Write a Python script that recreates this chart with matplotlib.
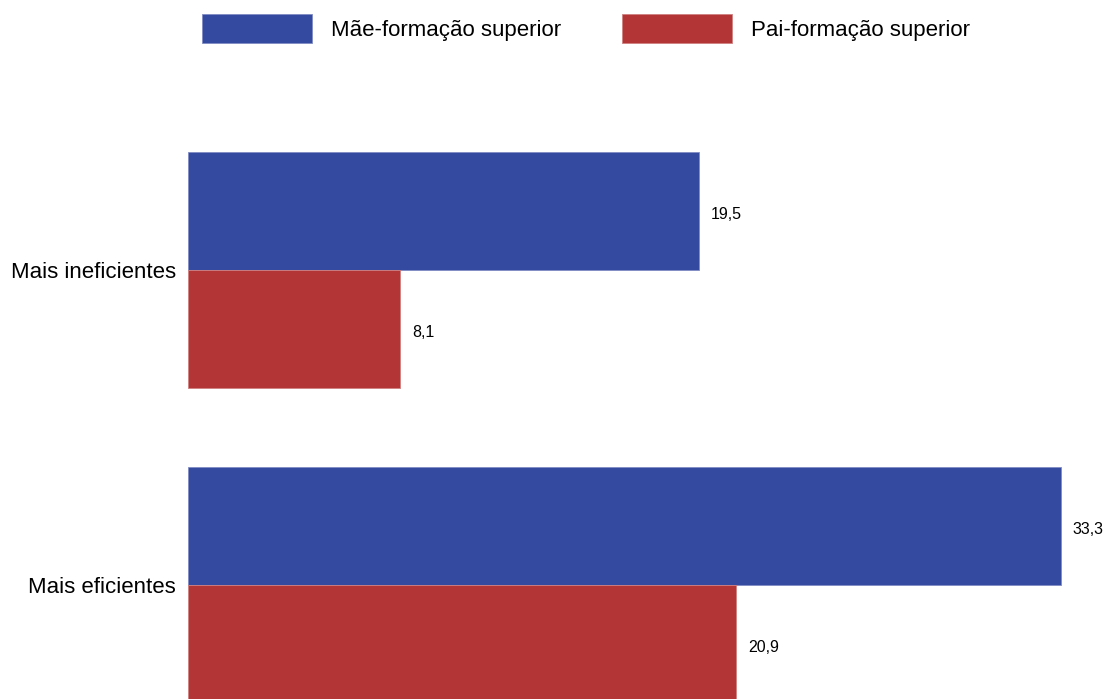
import matplotlib
matplotlib.use("Agg")
import matplotlib.pyplot as plt
import numpy as np

categories = ["Mais eficientes", "Mais ineficientes"]
series_names = ["Mãe-formação superior", "Pai-formação superior"]
mae = [33.3, 19.5]
pai = [20.9, 8.1]
value_labels_mae = ["33,3", "19,5"]
value_labels_pai = ["20,9", "8,1"]

blue = "#344AA0"
red = "#B43535"

plt.rcParams['font.family'] = ['Liberation Sans', 'DejaVu Sans']

W, H = 1109, 699
fig = plt.figure(figsize=(W / 100, H / 100), dpi=100)
left_px, top_px = 188, 100
ax = fig.add_axes([left_px / W, 0, (W - left_px) / W, (H - top_px) / H])

y = np.arange(len(categories))
h = 0.375
b1 = ax.barh(y + h / 2, mae, height=h, color=blue, edgecolor="#7f8cc4", linewidth=0.6, label=series_names[0])
b2 = ax.barh(y - h / 2, pai, height=h, color=red, edgecolor="#d08080", linewidth=0.6, label=series_names[1])

labs = ax.bar_label(b1, labels=value_labels_mae, padding=8.8, fontsize=11.5)
labs += ax.bar_label(b2, labels=value_labels_pai, padding=8.8, fontsize=11.5)
for t in labs:
    t.xyann = (8.8, -2.5)

ax.set_xlim(0, 35.15)
ax.set_ylim(-0.362, 1.54)
ax.set_yticks(y)
ax.set_yticklabels(categories, fontsize=16)
ax.tick_params(axis='y', length=0, pad=8.6)
ax.set_xticks([])
for s in ax.spines.values():
    s.set_visible(False)

fig.legend(handles=[b1, b2], labels=series_names, loc='upper center',
           bbox_to_anchor=(586 / W, 1 - 14 / H), ncol=2, frameon=False,
           fontsize=16, handlelength=4.95, handleheight=1.64,
           handletextpad=0.85, columnspacing=2.75, borderpad=0, borderaxespad=0)

fig.savefig("out.png", dpi=100)
